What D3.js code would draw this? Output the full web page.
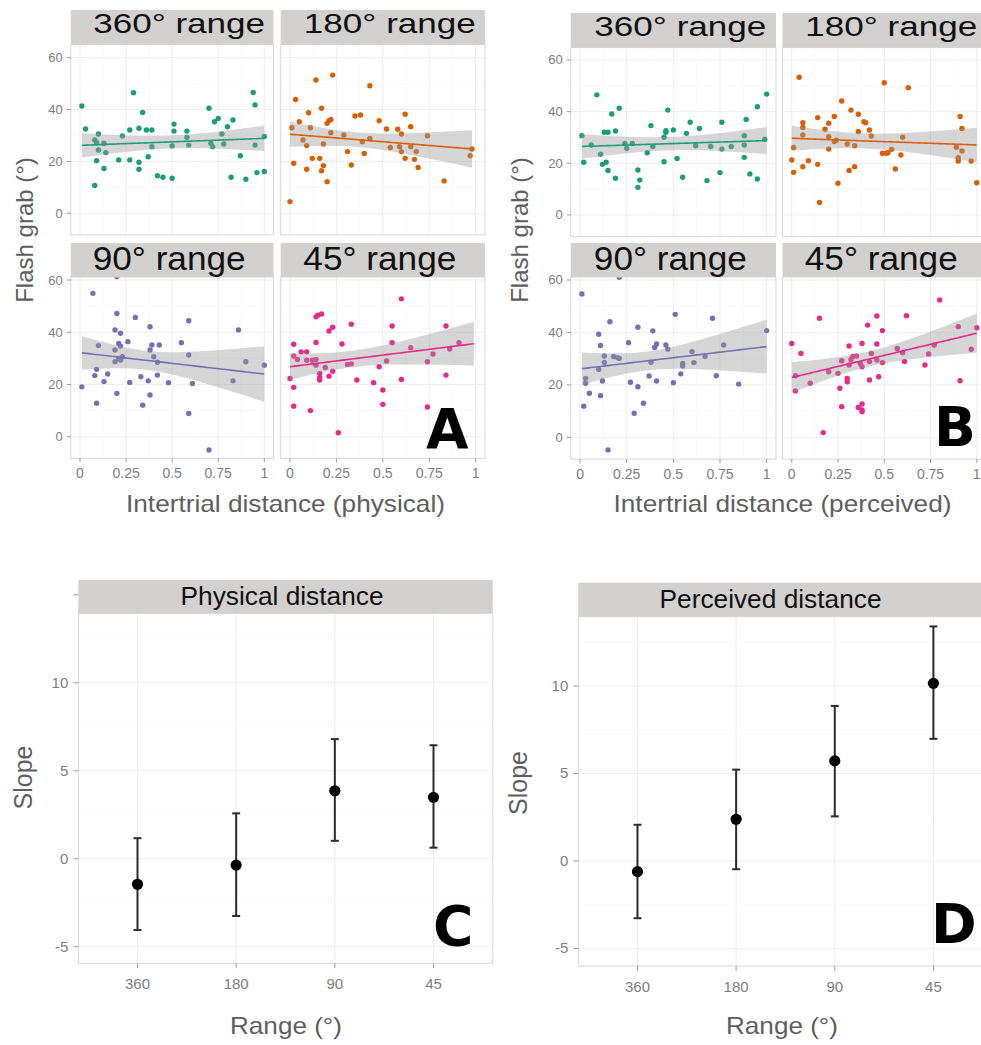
<!DOCTYPE html>
<html><head><meta charset="utf-8">
<script src="https://cdn.jsdelivr.net/npm/d3@7"></script>
<style>body{margin:0;background:#fff} svg{display:block} text{font-family:"Liberation Sans",Arial,sans-serif}</style>
</head><body><svg id="c" width="981" height="1045"></svg>
<script>
// ---------------- DATA ----------------
const rangeLabels = ["360° range","180° range","90° range","45° range"];
const rangeColors = ["#1b9e77","#d95f02","#7570b3","#e7298a"];
const xTicks = [0,0.25,0.5,0.75,1];
const xTickLabels = ["0","0.25","0.5","0.75","1"];
const yTicks = [0,20,40,60];

const phys360 = [[0.01,41.4],[0.03,32.5],[0.10,30.6],[0.08,28.3],[0.09,27.2],[0.10,24.4],[0.09,20.3],[0.08,10.7],[0.13,27.0],[0.14,23.4],[0.13,17.3],[0.23,29.8],[0.21,20.6],[0.27,32.1],[0.27,20.6],[0.29,46.5],[0.32,32.8],[0.34,38.9],[0.32,19.7],[0.32,17.0],[0.36,32.1],[0.39,32.1],[0.37,21.8],[0.39,25.7],[0.42,14.5],[0.45,13.9],[0.50,26.0],[0.51,31.7],[0.51,34.4],[0.50,13.5],[0.58,29.3],[0.58,31.7],[0.59,26.3],[0.70,40.5],[0.71,27.0],[0.72,25.7],[0.73,35.3],[0.75,36.6],[0.77,30.6],[0.80,33.4],[0.78,26.7],[0.83,36.0],[0.82,13.9],[0.87,22.2],[0.90,13.1],[0.94,46.6],[0.95,41.8],[0.95,26.3],[0.96,15.7],[1.00,16.1],[1.00,29.6]];
const phys180 = [[0.00,4.5],[0.02,19.3],[0.03,43.9],[0.05,35.3],[0.01,33.0],[0.07,28.3],[0.09,26.1],[0.09,17.0],[0.10,38.8],[0.11,33.0],[0.12,21.2],[0.14,51.4],[0.16,21.2],[0.17,40.5],[0.17,16.4],[0.18,18.4],[0.18,26.7],[0.20,12.2],[0.20,34.7],[0.21,35.7],[0.22,36.2],[0.22,31.1],[0.23,53.3],[0.29,30.2],[0.31,23.8],[0.33,18.6],[0.35,37.5],[0.38,37.9],[0.39,27.6],[0.40,23.1],[0.43,49.2],[0.43,28.9],[0.48,35.7],[0.52,32.5],[0.54,25.4],[0.58,32.4],[0.60,30.6],[0.59,25.7],[0.60,23.8],[0.62,38.2],[0.62,21.2],[0.65,33.4],[0.65,25.7],[0.67,20.8],[0.68,23.8],[0.69,17.7],[0.74,29.9],[0.83,12.5],[0.97,22.2],[0.98,24.8]];
const phys90 = [[0.01,19.1],[0.07,54.9],[0.08,23.4],[0.09,25.8],[0.10,34.9],[0.09,12.8],[0.13,21.1],[0.15,24.0],[0.19,40.9],[0.19,33.2],[0.20,61.3],[0.20,47.2],[0.20,16.6],[0.19,28.7],[0.21,35.7],[0.21,30.0],[0.22,29.4],[0.22,39.6],[0.23,30.6],[0.22,34.7],[0.26,36.4],[0.27,20.8],[0.30,45.7],[0.33,23.0],[0.34,12.1],[0.37,21.4],[0.38,42.1],[0.38,33.2],[0.38,16.0],[0.39,35.1],[0.40,30.6],[0.42,28.5],[0.42,23.6],[0.43,35.1],[0.48,20.7],[0.55,36.0],[0.59,44.4],[0.59,31.3],[0.59,8.9],[0.61,20.4],[0.70,-5.1],[0.83,21.4],[0.86,40.9],[0.90,28.7],[1.00,27.4]];
const phys45 = [[0.00,22.3],[0.02,35.4],[0.02,18.9],[0.02,11.7],[0.02,30.9],[0.04,29.6],[0.06,32.5],[0.09,32.5],[0.09,29.3],[0.12,29.3],[0.14,29.6],[0.14,27.4],[0.11,10.0],[0.14,45.9],[0.15,46.5],[0.17,47.0],[0.14,36.1],[0.16,24.2],[0.16,22.7],[0.16,21.7],[0.19,26.5],[0.21,23.2],[0.23,25.1],[0.21,40.5],[0.23,41.9],[0.28,35.5],[0.26,1.5],[0.31,27.7],[0.33,27.9],[0.33,43.1],[0.36,21.7],[0.45,20.7],[0.48,26.8],[0.50,17.9],[0.50,12.4],[0.52,29.0],[0.55,36.0],[0.55,42.4],[0.60,52.8],[0.60,21.9],[0.65,34.1],[0.74,11.4],[0.74,28.7],[0.77,31.7],[0.84,42.4],[0.84,23.6],[0.86,33.6],[0.91,36.0]];

const perc360 = [[0.01,30.7],[0.02,20.4],[0.06,27.1],[0.09,46.5],[0.11,23.5],[0.12,19.6],[0.14,20.4],[0.15,17.2],[0.13,32.0],[0.15,32.0],[0.17,39.1],[0.19,14.2],[0.19,32.5],[0.21,41.3],[0.24,27.7],[0.25,25.8],[0.28,27.7],[0.31,10.7],[0.31,17.4],[0.32,13.5],[0.36,24.1],[0.38,34.6],[0.39,26.5],[0.45,30.1],[0.45,20.6],[0.46,32.0],[0.47,40.6],[0.46,32.6],[0.50,32.9],[0.52,21.9],[0.55,14.6],[0.57,31.6],[0.59,35.9],[0.62,26.8],[0.64,33.5],[0.68,13.3],[0.70,26.5],[0.75,16.4],[0.76,35.9],[0.76,25.5],[0.81,26.5],[0.88,30.7],[0.88,27.1],[0.88,22.3],[0.89,37.0],[0.91,15.9],[0.95,41.9],[0.95,13.9],[0.99,29.3],[1.00,46.8]];
const perc180 = [[0.00,21.3],[0.01,16.5],[0.01,26.1],[0.04,53.3],[0.06,35.7],[0.06,33.9],[0.06,31.0],[0.06,18.7],[0.09,21.0],[0.14,19.6],[0.14,37.7],[0.15,4.8],[0.18,33.2],[0.20,35.5],[0.20,25.5],[0.20,30.3],[0.23,38.1],[0.23,28.4],[0.24,28.9],[0.25,12.3],[0.27,44.1],[0.30,27.5],[0.31,17.2],[0.32,40.6],[0.34,18.7],[0.34,26.8],[0.36,32.3],[0.36,39.0],[0.39,36.1],[0.40,35.7],[0.42,32.9],[0.43,30.6],[0.49,23.9],[0.50,51.2],[0.51,23.9],[0.52,24.1],[0.54,25.4],[0.56,17.8],[0.59,23.2],[0.60,30.1],[0.63,49.3],[0.89,26.2],[0.90,20.9],[0.90,22.2],[0.91,38.1],[0.92,33.5],[0.92,24.8],[0.97,20.9],[1.00,12.5]];
const perc90 = [[0.01,54.7],[0.02,11.9],[0.03,22.5],[0.03,20.6],[0.05,16.8],[0.10,39.3],[0.10,25.9],[0.11,15.9],[0.11,35.0],[0.12,21.5],[0.13,28.6],[0.13,31.0],[0.15,-4.8],[0.16,44.1],[0.18,30.8],[0.20,30.4],[0.21,30.1],[0.21,61.0],[0.26,36.1],[0.27,21.0],[0.29,9.2],[0.31,19.3],[0.31,42.0],[0.34,13.0],[0.37,23.4],[0.38,28.6],[0.39,40.6],[0.40,34.3],[0.41,35.6],[0.41,21.5],[0.46,35.2],[0.47,33.6],[0.50,20.8],[0.51,46.9],[0.54,24.2],[0.55,28.2],[0.55,27.2],[0.60,32.7],[0.61,28.5],[0.67,30.8],[0.71,45.4],[0.73,23.5],[0.77,35.2],[0.85,20.3],[1.00,40.7]];
const perc45 = [[0.00,35.8],[0.02,23.5],[0.02,17.7],[0.05,32.0],[0.10,20.6],[0.15,45.4],[0.17,1.8],[0.20,25.0],[0.25,24.4],[0.26,18.7],[0.27,11.7],[0.27,29.2],[0.30,21.2],[0.30,22.5],[0.31,34.8],[0.31,27.6],[0.32,29.7],[0.33,30.8],[0.35,31.0],[0.36,11.4],[0.37,28.2],[0.38,35.8],[0.38,26.9],[0.38,10.4],[0.38,12.7],[0.38,9.8],[0.41,42.8],[0.42,28.9],[0.42,21.9],[0.43,32.0],[0.46,29.5],[0.46,35.6],[0.46,46.3],[0.47,23.1],[0.49,40.7],[0.49,28.5],[0.57,33.9],[0.61,28.9],[0.60,32.3],[0.62,46.4],[0.72,27.6],[0.74,31.8],[0.77,35.2],[0.80,52.4],[0.90,42.2],[0.91,21.6],[0.97,33.6],[1.00,41.8]];

// fitted lines: [y at x=0, y at x=1, last x of the fit]
const physFit = [[26.2,28.9,1.00],[30.5,24.7,0.98],[32.2,24.0,1.00],[26.8,35.7,0.99]];
const percFit = [[26.5,28.8,1.00],[29.7,27.1,1.00],[26.1,34.6,1.00],[22.8,39.7,1.00]];

const slopeCategories = ["360","180","90","45"];
const slopeTicks = [-5,0,5,10];
const physSlope = [-1.45,-0.36,3.86,3.49];
const physLow   = [-4.05,-3.25,1.02,0.63];
const physHigh  = [1.17,2.58,6.80,6.45];
const percSlope = [-0.61,2.38,5.72,10.15];
const percLow   = [-3.27,-0.47,2.55,6.98];
const percHigh  = [2.07,5.22,8.86,13.40];

// ---------------- DRAW ----------------
const svg = d3.select("#c");
svg.append("rect").attr("width",981).attr("height",1045).attr("fill","#fff");
const STRIP = "#d3d0d0", GRID = "#ededed", GRIDMIN = "#f6f6f6", BORDER = "#d6d6d6",
      TICKC = "#9a9a9a", LABC = "#7d7d7d", TITLEC = "#5e5e5e";

// confidence band around the fitted line, from the residuals of the points
function bandAround(pts, fit){
  const a = fit[0], b = fit[1]-fit[0];
  const n = pts.length, mx = d3.mean(pts,d=>d[0]);
  let sxx=0, sse=0;
  pts.forEach(d=>{sxx+=(d[0]-mx)**2; sse+=(d[1]-a-b*d[0])**2;});
  const s2 = sse/(n-2), t = 2.01;
  const x0 = d3.min(pts,d=>d[0]), x1 = fit[2];
  return d3.range(0,81).map(i=>{
    const x = x0+(x1-x0)*i/80, yh = a+b*x, se = Math.sqrt(s2*(1/n+(x-mx)**2/sxx));
    return {x, y:yh, lo:yh-t*se, hi:yh+t*se};
  });
}

function sText(g,x,y,str,size,len,opts={}){
  const t = g.append("text").attr("x",x).attr("y",y).attr("font-size",size)
    .attr("text-anchor",opts.anchor||"middle").attr("fill",opts.fill||"#111").text(str);
  if(len){ t.attr("textLength",len).attr("lengthAdjust","spacingAndGlyphs"); }
  if(opts.weight) t.attr("font-weight",opts.weight);
  if(opts.family) t.style("font-family",opts.family);
  return t;
}

let clipN = 0;
function facet(g, pts, fitVals, ci, xr, yr, stripY, stripText, opts){
  const x = d3.scaleLinear().domain([-0.05,1.05]).range(xr);
  const y = d3.scaleLinear().domain([-8.3,64.8]).range(yr);
  const top = stripY[1], bot = yr[0];
  const fg = g.append("g");
  const clipId = "clip"+(clipN++);
  fg.append("clipPath").attr("id",clipId).append("rect")
    .attr("x",xr[0]).attr("y",yr[1]).attr("width",xr[1]-xr[0]).attr("height",bot-yr[1]);
  const inner = fg.append("g").attr("clip-path",`url(#${clipId})`);
  [0.125,0.375,0.625,0.875].forEach(v=>inner.append("line").attr("x1",x(v)).attr("x2",x(v)).attr("y1",yr[1]).attr("y2",bot).attr("stroke",GRIDMIN).attr("stroke-width",0.6));
  [10,30,50].forEach(v=>inner.append("line").attr("y1",y(v)).attr("y2",y(v)).attr("x1",xr[0]).attr("x2",xr[1]).attr("stroke",GRIDMIN).attr("stroke-width",0.6));
  xTicks.forEach(v=>inner.append("line").attr("x1",x(v)).attr("x2",x(v)).attr("y1",yr[1]).attr("y2",bot).attr("stroke",GRID).attr("stroke-width",1));
  yTicks.forEach(v=>inner.append("line").attr("y1",y(v)).attr("y2",y(v)).attr("x1",xr[0]).attr("x2",xr[1]).attr("stroke",GRID).attr("stroke-width",1));
  inner.selectAll("circle.p").data(pts).join("circle").attr("class","p")
    .attr("cx",d=>x(d[0])).attr("cy",d=>y(d[1])).attr("r",2.7).attr("fill",rangeColors[ci]);
  const fit = bandAround(pts, fitVals);
  inner.append("path").datum(fit)
    .attr("d",d3.area().x(d=>x(d.x)).y0(d=>y(d.lo)).y1(d=>y(d.hi)))
    .attr("fill","#999999").attr("fill-opacity",0.4);
  inner.append("path").datum(fit)
    .attr("d",d3.line().x(d=>x(d.x)).y(d=>y(d.y)))
    .attr("fill","none").attr("stroke",rangeColors[ci]).attr("stroke-width",1.6);
  fg.append("rect").attr("x",xr[0]).attr("y",top).attr("width",xr[1]-xr[0]).attr("height",bot-top)
    .attr("fill","none").attr("stroke",BORDER).attr("stroke-width",1);
  fg.append("rect").attr("x",xr[0]).attr("y",stripY[0]).attr("width",xr[1]-xr[0]).attr("height",stripY[1]-stripY[0]).attr("fill",STRIP);
  const cx = (xr[0]+xr[1])/2 + opts.textDx;
  sText(fg,cx,opts.textBase,stripText,opts.textSize,opts.textLen,{fill:"#111"});
  if(opts.yAxis){
    yTicks.forEach(v=>{
      fg.append("line").attr("x1",xr[0]-4).attr("x2",xr[0]).attr("y1",y(v)).attr("y2",y(v)).attr("stroke",TICKC);
      sText(fg,xr[0]-8,y(v)+4.5,String(v),13,null,{anchor:"end",fill:LABC});
    });
  }
  if(opts.xAxis){
    xTicks.forEach((v,i)=>{
      fg.append("line").attr("x1",x(v)).attr("x2",x(v)).attr("y1",bot).attr("y2",bot+4).attr("stroke",TICKC);
      sText(fg,x(v),bot+20,xTickLabels[i],14,null,{fill:LABC});
    });
  }
}

function scatterPanel(sets, fits, colsX, rows, yTitleX, xTitle, xTitleLen, letter, letterX, letterY){
  const g = svg.append("g");
  sets.forEach((pts,i)=>{
    const r = Math.floor(i/2), c = i%2;
    facet(g, pts, fits[i], i, colsX[c], rows[r].range, rows[r].strip, rangeLabels[i], {
      textDx: r===0?7:-3, textBase: rows[r].base, textSize: r===0?28:33, textLen: r===0?172:153,
      yAxis: c===0, xAxis: r===1
    });
  });
  g.append("text").attr("transform",`translate(${yTitleX},230) rotate(-90)`)
    .attr("text-anchor","middle").attr("font-size",24).attr("fill",TITLEC).text("Flash grab (°)");
  sText(g, xTitle.cx, 511.5, xTitle.text, 24, xTitleLen, {fill:TITLEC});
  sText(g, letterX, letterY, letter, 55, null, {anchor:"start", fill:"#000", weight:"bold", family:"DejaVu Sans"});
}

scatterPanel([phys360,phys180,phys90,phys45], physFit,
  [[70.8,273.5],[280.7,485]],
  [{range:[234.8,45.3],strip:[10,44.5],base:32.7},{range:[458.4,267.5],strip:[243,277],base:269.5}],
  33, {cx:285.5,text:"Intertrial distance (physical)"}, 319, "A", 426, 448.3);

scatterPanel([perc360,perc180,perc90,perc45], percFit,
  [[570.7,776],[782.5,986]],
  [{range:[236.4,47.6],strip:[13,47.6],base:36},{range:[459.1,267.4],strip:[243,277],base:269.5}],
  528, {cx:782.5,text:"Intertrial distance (perceived)"}, 338, "B", 934, 446);

function slopePanel(mid, low, high, xr, yDom, yr, stripY, stripText, stripTextX, stripLen, titleX, titleY, rangeCx, letter, lx, ly, tick15){
  const g = svg.append("g");
  const x = d3.scalePoint().domain(slopeCategories).range(xr).padding(0.6);
  const y = d3.scaleLinear().domain(yDom).range(yr);
  const top = stripY[1], bot = yr[0];
  const xe = Math.min(xr[1],981);
  [-2.5,2.5,7.5,12.5].forEach(v=>g.append("line").attr("x1",xr[0]).attr("x2",xe).attr("y1",y(v)).attr("y2",y(v)).attr("stroke",GRIDMIN).attr("stroke-width",0.6));
  [-5,0,5,10,15].forEach(v=>g.append("line").attr("x1",xr[0]).attr("x2",xe).attr("y1",y(v)).attr("y2",y(v)).attr("stroke",GRID).attr("stroke-width",1));
  slopeCategories.forEach(c=>g.append("line").attr("x1",x(c)).attr("x2",x(c)).attr("y1",top).attr("y2",bot).attr("stroke",GRID).attr("stroke-width",1));
  g.append("rect").attr("x",xr[0]).attr("y",top).attr("width",xr[1]-xr[0]).attr("height",bot-top)
    .attr("fill","none").attr("stroke",BORDER);
  slopeCategories.forEach((c,i)=>{
    const cx = x(c);
    g.append("line").attr("x1",cx).attr("x2",cx).attr("y1",y(low[i])).attr("y2",y(high[i])).attr("stroke","#2b2b2b").attr("stroke-width",2);
    [low[i],high[i]].forEach(v=>g.append("line").attr("x1",cx-4).attr("x2",cx+4).attr("y1",y(v)).attr("y2",y(v)).attr("stroke","#2b2b2b").attr("stroke-width",2));
    g.append("circle").attr("cx",cx).attr("cy",y(mid[i])).attr("r",5.6).attr("fill","#000");
  });
  g.append("rect").attr("x",xr[0]).attr("y",stripY[0]).attr("width",xr[1]-xr[0]).attr("height",stripY[1]-stripY[0]).attr("fill",STRIP);
  sText(g, stripTextX, stripY[0]+25, stripText, 25, stripLen, {fill:"#111"});
  slopeTicks.forEach(v=>{
    g.append("line").attr("x1",xr[0]-5).attr("x2",xr[0]).attr("y1",y(v)).attr("y2",y(v)).attr("stroke",TICKC);
    sText(g,xr[0]-10,y(v)+5,String(v),15,null,{anchor:"end",fill:LABC});
  });
  if(tick15) g.append("line").attr("x1",xr[0]-5).attr("x2",xr[0]).attr("y1",y(15)).attr("y2",y(15)).attr("stroke",TICKC);
  slopeCategories.forEach(c=>{
    g.append("line").attr("x1",x(c)).attr("x2",x(c)).attr("y1",bot).attr("y2",bot+5).attr("stroke",TICKC);
    sText(g,x(c),bot+26,c,15,null,{fill:LABC});
  });
  g.append("text").attr("transform",`translate(${titleX},${titleY}) rotate(-90)`)
    .attr("text-anchor","middle").attr("font-size",25).attr("fill",TITLEC).text("Slope");
  sText(g, rangeCx, 1034, "Range (°)", 24, 112, {fill:TITLEC});
  sText(g, lx, ly, letter, 55, null, {anchor:"start", fill:"#000", weight:"bold", family:"DejaVu Sans"});
}

slopePanel(physSlope, physLow, physHigh, [78.3,492.7], [-5.94,15.84], [963.3,580], [580,613.3],
  "Physical distance", 282, 203, 32, 777.5, 286, "C", 433, 945, true);
slopePanel(percSlope, percLow, percHigh, [578.3,992.6], [-6.0,15.9], [966,582.7], [582.7,616.7],
  "Perceived distance", 770.5, 222, 527, 783, 782, "D", 931, 943.3, false);
</script></body></html>
